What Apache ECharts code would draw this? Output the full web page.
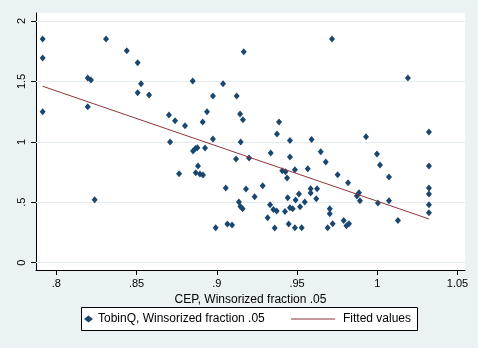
<!DOCTYPE html>
<html>
<head>
<meta charset="utf-8">
<script src="https://cdn.jsdelivr.net/npm/echarts@6/dist/echarts.min.js"></script>
<style>html,body{margin:0;padding:0;background:#EAF2F3;}#c{width:478px;height:348px;}</style>
</head>
<body>
<div id="c"></div>
<script>
const cepX = [0.7915,0.7915,0.7915,0.8196,0.8216,0.8196,0.8239,0.8310,0.8439,0.8507,
0.8528,0.8507,0.8578,0.8702,0.8740,0.8709,0.8765,0.8802,0.8850,0.8852,
0.8867,0.8879,0.8927,0.8883,0.8869,0.8895,0.8914,0.8912,0.8939,0.8976,
0.8976,0.8993,0.9039,0.9056,0.9066,0.9095,0.9124,0.9120,0.9145,0.9163,
0.9149,0.9138,0.9147,0.9161,0.9168,0.9182,0.9201,0.9236,0.9286,0.9336,
0.9332,0.9353,0.9373,0.9317,0.9361,0.9375,0.9388,0.9408,0.9428,0.9438,
0.9442,0.9425,0.9456,0.9473,0.9448,0.9456,0.9456,0.9487,0.9491,0.9512,
0.9519,0.9487,0.9529,0.9548,0.9567,0.9585,0.9585,0.9591,0.9625,0.9620,
0.9648,0.9679,0.9704,0.9704,0.9691,0.9722,0.9718,0.9753,0.9791,0.9808,
0.9824,0.9818,0.9873,0.9886,0.9892,0.9930,0.9998,1.0017,1.0004,1.0073,
1.0073,1.0129,1.0191,1.0322,1.0322,1.0322,1.0322,1.0322,1.0322];
const tobinQ = [1.851,1.694,1.249,1.528,1.512,1.291,0.521,1.851,1.754,1.655,
1.481,1.407,1.388,1.222,1.175,0.999,0.736,1.134,1.504,0.924,
0.945,0.952,0.949,0.800,0.745,0.734,0.726,1.164,1.249,1.379,
1.024,0.290,1.481,0.618,0.320,0.312,1.379,0.858,1.230,1.183,
0.999,0.502,0.465,0.447,1.746,0.610,0.866,0.546,0.637,0.908,
0.480,0.440,0.428,0.372,0.287,1.065,1.164,0.761,0.753,0.701,
0.538,0.424,0.455,0.447,0.320,1.011,0.875,0.770,0.519,0.568,
0.463,0.290,0.290,0.502,0.778,0.612,0.577,1.019,0.612,0.530,
0.918,0.833,0.447,0.405,0.290,0.323,1.851,0.728,0.349,0.306,
0.323,0.662,0.552,0.579,0.513,1.043,0.899,0.808,0.494,0.709,
0.513,0.349,1.528,1.082,0.800,0.618,0.568,0.480,0.414];
const fitX = [0.7915, 1.0322];
const fitY = [1.460, 0.362];
const xTicks = [0.8, 0.85, 0.9, 0.95, 1, 1.05];
const yTicks = [0, 0.5, 1, 1.5, 2];
const xTitle = 'CEP, Winsorized fraction .05';
const scatterName = 'TobinQ, Winsorized fraction .05';
const fitName = 'Fitted values';

const fmt = v => String(v).replace(/^0\./, '.');
const font = 'Liberation Sans, Arial, sans-serif';
const chart = echarts.init(document.getElementById('c'), null, {renderer: 'canvas'});
chart.setOption({
  animation: false,
  backgroundColor: '#EAF2F3',
  grid: {left: 36, right: 13, top: 13, bottom: 78, show: true, backgroundColor: '#ffffff', borderWidth: 0},
  xAxis: {
    type: 'value', min: 0.78735, max: 1.05467,
    name: xTitle, nameLocation: 'middle', nameGap: 19,
    nameTextStyle: {color: '#000', fontSize: 12, fontFamily: font},
    axisLine: {show: true, onZero: false, lineStyle: {color: '#000', width: 1}},
    axisTick: {show: true, length: 5, lineStyle: {color: '#000'}, customValues: xTicks},
    axisLabel: {color: '#000', fontSize: 11, fontFamily: font, margin: 8, customValues: xTicks, formatter: fmt},
    splitLine: {show: false}
  },
  yAxis: {
    type: 'value', min: -0.0604, max: 2.066,
    axisLine: {show: true, onZero: false, lineStyle: {color: '#000', width: 1}},
    axisTick: {show: true, length: 5, lineStyle: {color: '#000'}, customValues: yTicks},
    axisLabel: {color: '#000', fontSize: 11, fontFamily: font, margin: 9, rotate: 90, customValues: yTicks, formatter: fmt},
    splitLine: {show: false}
  },
  legend: [
    {left: 84, top: 313, padding: 0, itemWidth: 9, itemHeight: 7, icon: 'diamond',
     data: [scatterName], textStyle: {color: '#000', fontSize: 12, fontFamily: font}, z: 5},
    {left: 291, top: 313, padding: 0, itemWidth: 44, itemHeight: 1, icon: 'rect',
     data: [fitName], itemStyle: {color: '#90353B', borderWidth: 0},
     textStyle: {color: '#000', fontSize: 12, fontFamily: font, padding: [0, 0, 0, 3]}, z: 5}
  ],
  graphic: [{type: 'rect', z: 0, shape: {x: 81.5, y: 307.5, width: 336, height: 23},
    style: {fill: '#ffffff', stroke: '#000', lineWidth: 1}}],
  series: [
    {type: 'line', data: [], z: 1, silent: true,
     markLine: {silent: true, z: 1, symbol: 'none', label: {show: false},
       lineStyle: {color: '#E4ECEF', type: 'solid', width: 1},
       data: yTicks.map(v => ({yAxis: v}))}},
    {name: scatterName, type: 'scatter', z: 3, symbol: 'diamond', symbolSize: [6, 7],
     itemStyle: {color: '#1A476F', opacity: 1},
     data: cepX.map((x, i) => [x, tobinQ[i]])},
    {name: fitName, type: 'line', z: 4, symbol: 'none', showSymbol: false,
     lineStyle: {color: '#90353B', width: 1}, itemStyle: {color: '#90353B'},
     data: fitX.map((x, i) => [x, fitY[i]])}
  ]
});
</script>
</body>
</html>
